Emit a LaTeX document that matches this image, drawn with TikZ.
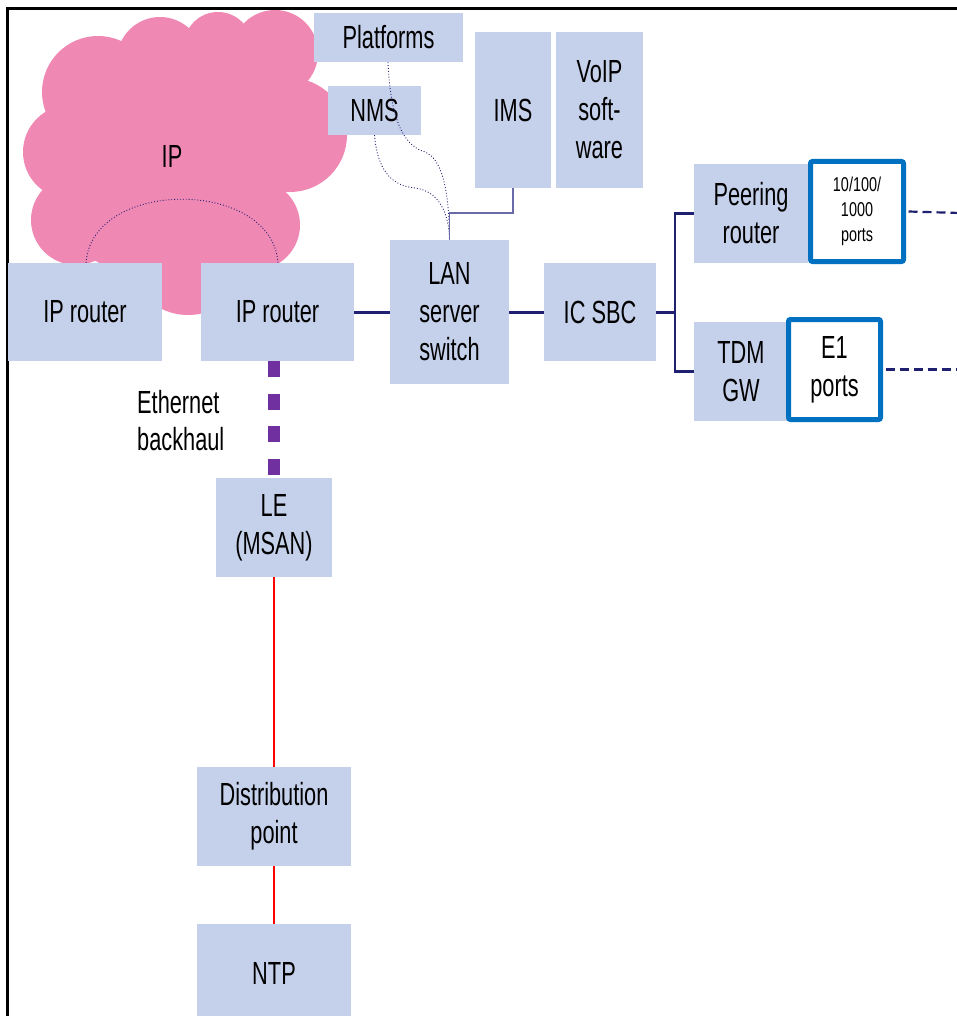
\documentclass[tikz,border=0pt]{standalone}
\usepackage{fontspec}
\newfontfamily\mainf[FakeStretch=0.68]{Liberation Sans}
\newfontfamily\smallf[FakeStretch=0.72]{Liberation Sans}
\definecolor{boxblue}{HTML}{C5D0EA}
\definecolor{cloudpink}{HTML}{F088B4}
\definecolor{navy}{HTML}{202070}
\definecolor{portblue}{HTML}{0070C0}
\definecolor{ethpurple}{HTML}{7030A0}
\definecolor{imsline}{HTML}{6A6AA8}
\tikzset{
  box/.style={fill=boxblue, inner sep=0pt, align=center, font=\mainf\fontsize{32}{38}\selectfont},
  portbox/.style={draw=portblue, line width=5pt, fill=white, rounded corners=2pt, inner sep=0pt, align=center},
  navyline/.style={draw=navy, line width=3pt},
  forkline/.style={draw=navy, line width=2.3pt},
  dotline/.style={draw=navy, line width=0.9pt, dotted},
  dashline/.style={draw=navy, line width=2.2pt, dash pattern=on 9pt off 5pt},
  redline/.style={draw=red, line width=1.5pt},
  ethline/.style={draw=ethpurple, line width=12pt, dash pattern=on 16pt off 16.5pt},
}
\begin{document}
\begin{tikzpicture}[x=1pt,y=-1pt]
\useasboundingbox (0,0) rectangle (956,1016);
% frame
\draw[line width=3pt] (7.5,1020) -- (7.5,9) -- (960,9);
% cloud
\begin{scope}[fill=cloudpink]
\fill (98,92) circle (56);
\fill (160,60) circle (43);
\fill (218,46) circle (34);
\fill (275,53) circle (43);
\fill (290,135) circle (57);
\fill (70,152) circle (47);
\fill (76,220) circle (45);
\fill (255,225) circle (45);
\fill (188,255) circle (60);
\fill (185,150) circle (105);
\fill (130,200) circle (70);
\end{scope}
\node[font=\mainf\fontsize{32}{38}\selectfont] (ip) at (172,156) {IP};
% boxes
\node[box, minimum width=149, minimum height=49] (plat) at (388.5,37.5) {Platforms};
\node[box, minimum width=93, minimum height=49] (nms) at (374.5,110.5) {NMS};
\node[box, minimum width=76, minimum height=156] (ims) at (513,110) {IMS};
\node[box, minimum width=87, minimum height=156] (voip) at (599.5,110) {VoIP\\soft-\\ware};
\node[box, minimum width=154, minimum height=98] (ipr1) at (85,312) {IP router};
\node[box, minimum width=153, minimum height=98] (ipr2) at (277.5,312) {IP router};
\node[box, minimum width=119, minimum height=144] (lan) at (449.5,312) {LAN\\server\\switch};
\node[box, minimum width=112, minimum height=98] (sbc) at (600,312) {IC SBC};
\node[box, minimum width=114, minimum height=99] (peer) at (751,213.5) {Peering\\router};
\node[box, minimum width=94, minimum height=99] (tdm) at (741,371.5) {TDM\\GW};
\node[portbox, minimum width=93, minimum height=100, font=\smallf\fontsize{20}{25}\selectfont] (p1000) at (857,211.5) {10/100/\\1000\\ports};
\node[portbox, minimum width=92, minimum height=100, font=\mainf\fontsize{32}{38}\selectfont] (e1) at (834.5,369.5) {E1\\ports};
\node[box, minimum width=116, minimum height=99] (le) at (274,527.5) {LE\\(MSAN)};
\node[box, minimum width=154, minimum height=99] (dist) at (274,816.5) {Distribution\\point};
\node[box, minimum width=154, minimum height=98] (ntp) at (274,973) {NTP};
\node[anchor=west, align=left, inner sep=0pt, font=\mainf\fontsize{32}{37}\selectfont] (eth) at (137,421) {Ethernet\\backhaul};
% coordinates
\coordinate (j) at (449.5,213);
\coordinate (fork) at (675,312);
\coordinate (r1) at (960,213);
\coordinate (r2) at (960,369.5);
% connectors
\draw[dotline] (ipr1.north -| 86,0) .. controls (92,178) and (272,178) .. (ipr2.north -| 278,0);
\draw[dotline] (nms.south) .. controls (378,175) and (395,186) .. (415,188) .. controls (440,191) and (449,215) .. (lan.north);
\draw[dotline] (plat.south -| 388,0) .. controls (390,110) and (400,145) .. (425,152) .. controls (445,160) and (449,200) .. (lan.north);
\draw[imsline, line width=1.3pt] (ims.south) |- (j) -- (lan.north);
\draw[navyline] (ipr2.east) -- (lan.west);
\draw[navyline] (lan.east) -- (sbc.west);
\draw[navyline] (sbc.east) -- (fork);
\draw[forkline] (fork) |- (peer.west);
\draw[forkline] (fork) |- (tdm.west);
\draw[dashline] (p1000.east) ++(2.5,0) -- (r1);
\draw[dashline] (e1.east) ++(2.5,0) -- (r2);
\draw[ethline] (ipr2.south -| le.north) -- (le.north);
\draw[redline] (le.south) -- (dist.north);
\draw[redline] (dist.south) -- (ntp.north);
\end{tikzpicture}
\end{document}
